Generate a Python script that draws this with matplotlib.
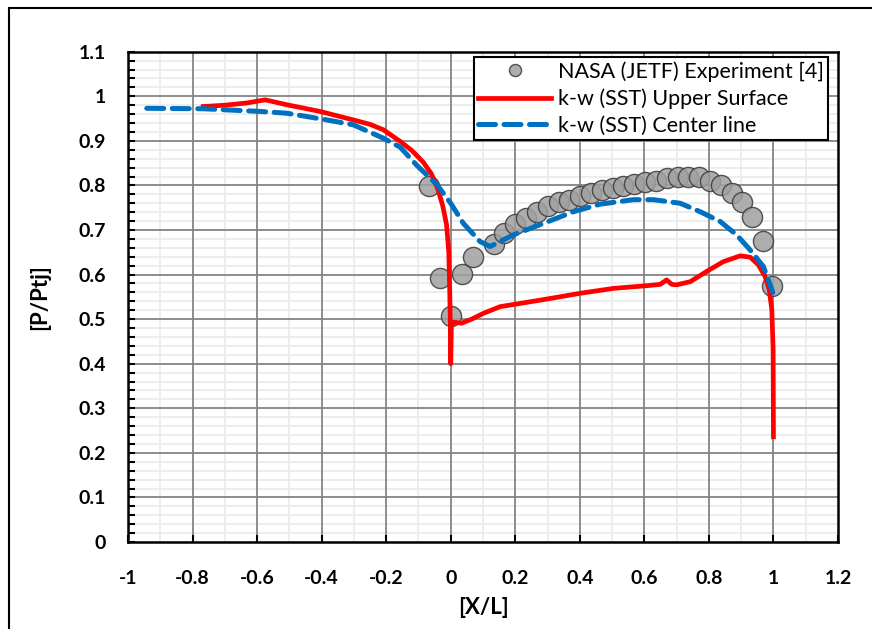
import numpy as np
import matplotlib.pyplot as plt
from matplotlib.patches import Rectangle
from matplotlib.ticker import MultipleLocator

plt.rcParams['font.family'] = ['Lato', 'DejaVu Sans']

# NASA (JETF) experiment
exp_x = [-0.066, -0.033, 0.001, 0.034, 0.068, 0.133, 0.166, 0.199, 0.233, 0.266,
         0.301, 0.335, 0.368, 0.401, 0.435, 0.468, 0.502, 0.535, 0.569, 0.602,
         0.636, 0.669, 0.703, 0.736, 0.769, 0.804, 0.837, 0.871, 0.904, 0.935,
         0.969, 0.995]
exp_y = [0.798, 0.593, 0.506, 0.602, 0.639, 0.668, 0.694, 0.714, 0.728, 0.741,
         0.753, 0.762, 0.768, 0.777, 0.784, 0.789, 0.795, 0.799, 0.804, 0.807,
         0.811, 0.816, 0.820, 0.820, 0.818, 0.811, 0.801, 0.784, 0.763, 0.730,
         0.676, 0.575]

# k-w (SST) upper surface
up_x = [-0.767, -0.700, -0.632, -0.575, -0.508, -0.405, -0.302, -0.250, -0.209,
        -0.157, -0.120, -0.085, -0.060, -0.040, -0.025, -0.013, -0.006, -0.003,
        -0.001, 0.000, 0.000, 0.002, 0.010, 0.034, 0.065, 0.101, 0.153, 0.204,
        0.297, 0.401, 0.504, 0.607, 0.649, 0.669, 0.685, 0.700, 0.742, 0.793,
        0.845, 0.897, 0.928, 0.953, 0.974, 0.987, 0.995, 0.999, 1.000]
up_y = [0.977, 0.980, 0.985, 0.992, 0.981, 0.966, 0.947, 0.937, 0.925,
        0.899, 0.878, 0.852, 0.826, 0.792, 0.755, 0.712, 0.650, 0.560,
        0.480, 0.400, 0.400, 0.485, 0.493, 0.491, 0.500, 0.513, 0.528, 0.534,
        0.545, 0.558, 0.569, 0.575, 0.578, 0.588, 0.578, 0.577, 0.584, 0.607,
        0.629, 0.642, 0.639, 0.622, 0.596, 0.566, 0.521, 0.431, 0.236]

# k-w (SST) center line
cl_x = [-0.942, -0.767, -0.591, -0.508, -0.384, -0.302, -0.209, -0.157, -0.105,
        -0.043, 0.000, 0.039, 0.091, 0.122, 0.194, 0.277, 0.380, 0.463, 0.566,
        0.628, 0.711, 0.773, 0.835, 0.886, 0.928, 0.969, 0.998]
cl_y = [0.973, 0.972, 0.966, 0.962, 0.947, 0.936, 0.906, 0.886, 0.845,
        0.802, 0.760, 0.715, 0.674, 0.663, 0.689, 0.712, 0.741, 0.758, 0.768,
        0.768, 0.760, 0.741, 0.719, 0.689, 0.655, 0.618, 0.560]

fig = plt.figure(figsize=(8.72, 6.29), dpi=100)
fig.patches.append(Rectangle((0.0103, -0.1), 1.2, 1.0865, transform=fig.transFigure,
                             fill=False, edgecolor='black', linewidth=1.5))
ax = fig.add_axes([0.1468, 0.1383, 0.8142, 0.7795])

# grid: light minor lines first, gray major lines on top of them
for gx in np.arange(-0.9, 1.2, 0.2):
    ax.axvline(gx, color='#ececec', lw=1.3, zorder=0.1)
for gy in np.arange(0, 1.1, 0.02):
    ax.axhline(gy, color='#ececec', lw=1.3, zorder=0.1)
for gx in np.arange(-0.8, 1.1, 0.2):
    ax.axvline(gx, color='#858585', lw=1.3, zorder=0.2)
for gy in np.arange(0.1, 1.05, 0.1):
    ax.axhline(gy, color='#858585', lw=1.3, zorder=0.2)

ax.plot(exp_x, exp_y, 'o', ms=14.5, mfc='#a0a0a0', mec='#3a3a3a', mew=1.0,
        alpha=0.85, label='NASA (JETF) Experiment [4]', zorder=3)
ax.plot(up_x, up_y, color='#ff0000', lw=3.4, solid_joinstyle='round',
        label='k-w (SST) Upper Surface', zorder=4)
ax.plot(cl_x, cl_y, color='#0070c0', lw=3.6, ls=(0, (3.4, 1.7)),
        dash_capstyle='round', label='k-w (SST) Center line', zorder=4)

ax.set_xlim(-1, 1.2)
ax.set_ylim(0, 1.1)
ax.set_xticks(np.arange(-1, 1.21, 0.2))
ax.set_xticklabels(['-1', '-0.8', '-0.6', '-0.4', '-0.2', '0', '0.2', '0.4',
                    '0.6', '0.8', '1', '1.2'])
ax.set_yticks(np.arange(0, 1.11, 0.1))
ax.set_yticklabels(['0', '0.1', '0.2', '0.3', '0.4', '0.5', '0.6', '0.7',
                    '0.8', '0.9', '1', '1.1'])
ax.yaxis.set_minor_locator(MultipleLocator(0.02))

ax.tick_params(axis='x', which='major', direction='in', length=5, width=1.5,
               pad=20, labelsize=14)
ax.tick_params(axis='y', which='both', direction='in', length=5, width=1.5,
               pad=16, labelsize=14)
for lab in ax.get_xticklabels() + ax.get_yticklabels():
    lab.set_fontweight('bold')
for s in ax.spines.values():
    s.set_linewidth(1.8)

ax.set_xlabel('[X/L]', fontsize=16, fontweight='bold', labelpad=7)
ax.set_ylabel('[P/Ptj]', fontsize=16, fontweight='bold', labelpad=20)

leg = ax.legend(loc='upper right', bbox_to_anchor=(0.986, 0.989), borderaxespad=0,
                fontsize=15.5, fancybox=False, framealpha=1, edgecolor='black',
                handlelength=3.4, handletextpad=0.3, labelspacing=0.3,
                borderpad=0.2, markerscale=0.6)
leg.get_frame().set_linewidth(1.5)

fig.savefig('out.png', dpi=100)
